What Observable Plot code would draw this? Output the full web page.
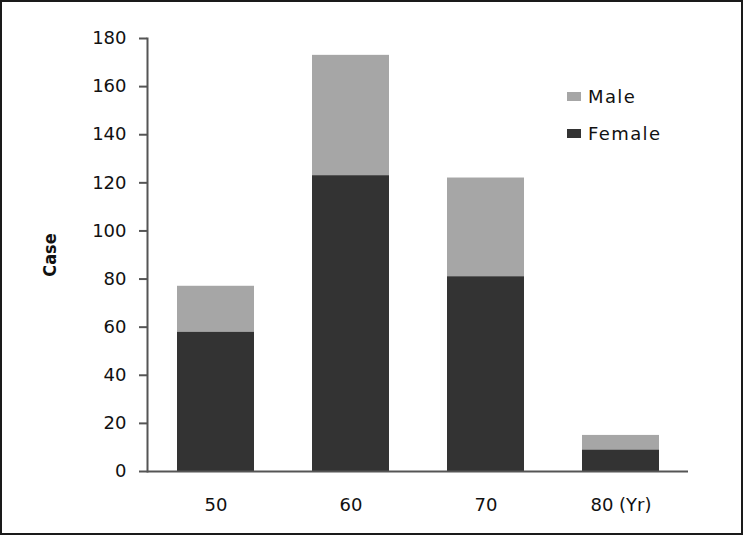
<!DOCTYPE html>
<html>
<head>
<meta charset="utf-8">
<script src="https://cdn.jsdelivr.net/npm/d3@7"></script>
<script src="https://cdn.jsdelivr.net/npm/@observablehq/plot@0.6"></script>
<style>
  html, body { margin: 0; padding: 0; background: #fff; }
  #wrap { position: relative; width: 743px; height: 535px; overflow: hidden; }
  #frame { position: absolute; left: 0; top: 0; width: 743px; height: 535px; box-sizing: border-box; border: 2px solid #1a1a1a; pointer-events: none; }
  #legend { position: absolute; left: 567px; top: 78px; font-family: "DejaVu Sans", sans-serif; font-size: 18px; letter-spacing: 1.4px; color: #111; }
  .item { display: flex; align-items: center; height: 37px; }
  .sw { width: 14px; height: 9px; margin-right: 7px; }
</style>
</head>
<body>
<div id="wrap">
  <div id="chart"></div>
  <div id="legend"></div>
  <div id="frame"></div>
</div>
<script>
const ages = ["50", "60", "70", "80 (Yr)"];
const female = [58, 123, 81, 9];
const male = [19, 50, 41, 6];
const seriesNames = ["Female", "Male"];
const seriesColors = ["#333333", "#a6a6a6"];
const yTicks = [0, 20, 40, 60, 80, 100, 120, 140, 160, 180];

const data = [];
ages.forEach((a, i) => {
  data.push({age: a, sex: "Female", value: female[i]});
  data.push({age: a, sex: "Male", value: male[i]});
});

const chart = Plot.plot({
  width: 743,
  height: 535,
  marginLeft: 147,
  marginRight: 55,
  marginTop: 38,
  marginBottom: 64,
  style: {fontFamily: "DejaVu Sans, sans-serif", fontSize: "18px", color: "#111", background: "transparent"},
  x: {domain: ages, paddingInner: 0.43, paddingOuter: 0.215},
  y: {domain: [0, 180]},
  color: {domain: seriesNames, range: seriesColors},
  marks: [
    Plot.barY(data, {x: "age", y: "value", fill: "sex", order: seriesNames}),
    Plot.axisY({ticks: yTicks, tickSize: 8, tickPadding: 13, stroke: "#555", strokeWidth: 2, fontSize: 18, label: null, style: {letterSpacing: "2.5px"}}),
    Plot.axisX({tickSize: 0, tickPadding: 27, fontSize: 18, label: null, style: {letterSpacing: "1px"}}),
    Plot.frame({anchor: "left", stroke: "#555", strokeWidth: 2}),
    Plot.ruleY([0], {stroke: "#555", strokeWidth: 2}),
    Plot.text(["Case"], {frameAnchor: "left", textAnchor: "middle", dx: -97, rotate: -90, fontWeight: "bold", fontSize: 18, fontFamily: "DejaVu Sans Condensed, DejaVu Sans, sans-serif", fill: "#111"})
  ]
});
document.getElementById("chart").appendChild(chart);

const legend = document.getElementById("legend");
["Male", "Female"].forEach(name => {
  const idx = seriesNames.indexOf(name);
  const item = document.createElement("div");
  item.className = "item";
  const sw = document.createElement("span");
  sw.className = "sw";
  sw.style.background = seriesColors[idx];
  const t = document.createElement("span");
  t.textContent = name;
  item.appendChild(sw);
  item.appendChild(t);
  legend.appendChild(item);
});
</script>
</body>
</html>
